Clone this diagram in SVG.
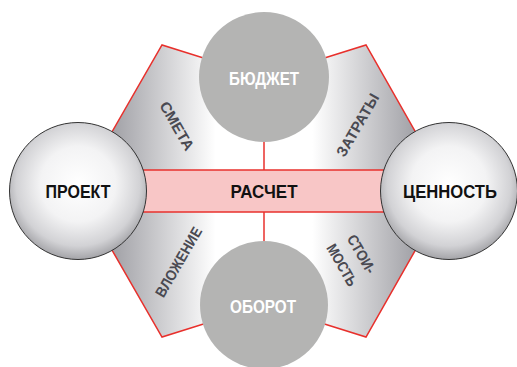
<svg xmlns="http://www.w3.org/2000/svg" width="517" height="367" viewBox="0 0 517 367">
<defs>
<linearGradient id="hexg" gradientUnits="userSpaceOnUse" x1="78" y1="0" x2="450" y2="0">
<stop offset="0.06" stop-color="#96969c"/>
<stop offset="0.37" stop-color="#ffffff"/>
<stop offset="0.63" stop-color="#ffffff"/>
<stop offset="0.94" stop-color="#96969c"/>
</linearGradient>
<radialGradient id="ballg" cx="0.5" cy="0.45" r="0.55">
<stop offset="0" stop-color="#ffffff"/>
<stop offset="0.5" stop-color="#f3f3f4"/>
<stop offset="0.82" stop-color="#d2d2d5"/>
<stop offset="1" stop-color="#a4a4a8"/>
</radialGradient>
</defs>
<style>
.main{font-family:"Liberation Sans",Arial,sans-serif;font-weight:bold;text-anchor:middle}
.blk{fill:#111111;font-size:19px}
.wht{fill:#ffffff;font-size:18px}
.lbl{font-family:"Liberation Sans",Arial,sans-serif;font-weight:bold;font-size:15px;fill:#4a4a52;text-anchor:middle}
.ball{fill:url(#ballg);stroke:#333333;stroke-width:1}
.flat{fill:#b4b4b3}
</style>
<g id="hexagon">
<polygon points="78,191 162,45 264,77 366,45 449,191 366,337 264,305 162,337" fill="url(#hexg)" stroke="#e8302c" stroke-width="1.5" stroke-linejoin="miter"/>
<text class="lbl" transform="translate(177,126) rotate(60)" y="5.3" textLength="54" lengthAdjust="spacingAndGlyphs">СМЕТА</text>
<text class="lbl" transform="translate(357.5,125) rotate(-60)" y="5.3" textLength="70" lengthAdjust="spacingAndGlyphs">ЗАТРАТЫ</text>
<text class="lbl" transform="translate(178.5,262) rotate(-60)" y="5.3" textLength="78" lengthAdjust="spacingAndGlyphs">ВЛОЖЕНИЕ</text>
<text class="lbl" transform="translate(361.5,254) rotate(60)" y="5.3" textLength="42" lengthAdjust="spacingAndGlyphs">СТОИ-</text>
<text class="lbl" transform="translate(342,265) rotate(60)" y="5.3" textLength="46" lengthAdjust="spacingAndGlyphs">МОСТЬ</text>
</g>
<g id="connectors">
<line x1="264" y1="140" x2="264" y2="171" stroke="#e8302c" stroke-width="1.5"/>
<line x1="264" y1="211" x2="264" y2="243" stroke="#e8302c" stroke-width="1.5"/>
</g>
<g id="raschet">
<rect x="140" y="170" width="250" height="42" fill="#f8c6c6"/>
<line x1="140" y1="170" x2="390" y2="170" stroke="#e8302c" stroke-width="1.5"/>
<line x1="140" y1="212" x2="390" y2="212" stroke="#e8302c" stroke-width="1.5"/>
<text class="main blk" x="264" y="198" textLength="67" lengthAdjust="spacingAndGlyphs">РАСЧЕТ</text>
</g>
<g id="budzhet">
<circle class="flat" cx="264" cy="77" r="65"/>
<text class="main wht" x="264" y="85" textLength="70" lengthAdjust="spacingAndGlyphs">БЮДЖЕТ</text>
</g>
<g id="oborot">
<circle class="flat" cx="264" cy="305" r="64"/>
<text class="main wht" x="263" y="313" textLength="66" lengthAdjust="spacingAndGlyphs">ОБОРОТ</text>
</g>
<g id="proekt">
<circle class="ball" cx="78" cy="191" r="68.5"/>
<text class="main blk" x="78" y="198" textLength="65" lengthAdjust="spacingAndGlyphs">ПРОЕКТ</text>
</g>
<g id="cennost">
<circle class="ball" cx="449" cy="191" r="68.5"/>
<text class="main blk" x="450" y="198" textLength="94" lengthAdjust="spacingAndGlyphs">ЦЕННОСТЬ</text>
</g>
</svg>
